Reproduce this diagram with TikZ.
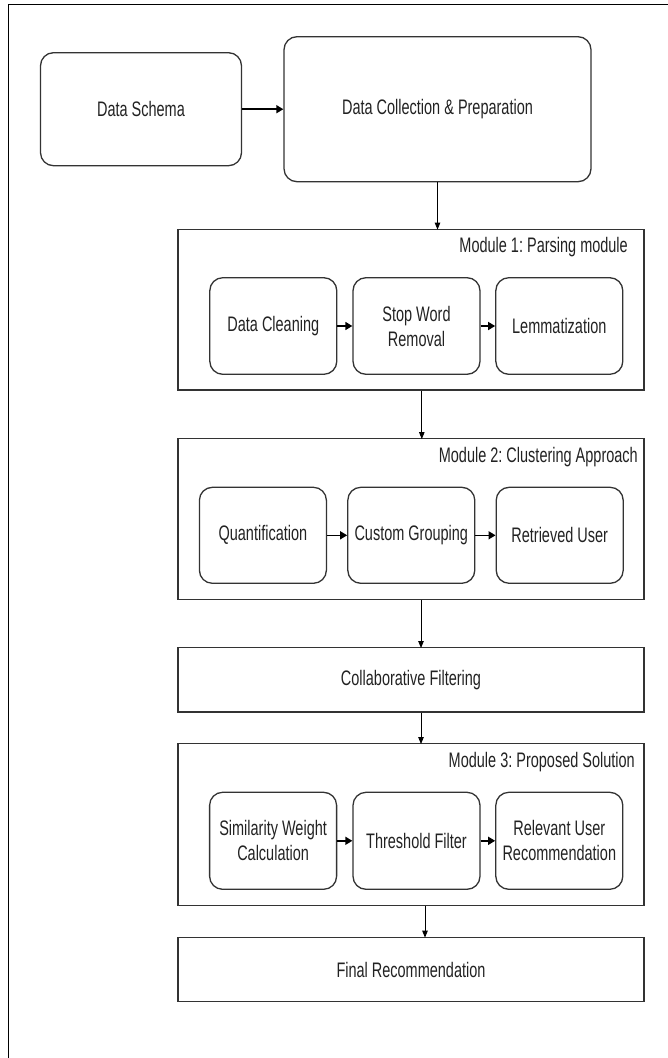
\documentclass[tikz,border=0pt]{standalone}
\usepackage{fontspec}
\setmainfont{Liberation Sans}[FakeStretch=0.69]
\usetikzlibrary{arrows.meta}
\definecolor{ln}{HTML}{333333}
\definecolor{tx}{HTML}{222222}
\frenchspacing
\begin{document}
\begin{tikzpicture}[x=1pt,y=-1pt,
  every node/.style={font=\fontsize{21}{25}\selectfont,text=tx,inner sep=0pt,align=center},
  rbox/.style={draw=ln,line width=1.3pt,rounded corners=13pt,minimum width=#1},
  rbox/.default=127pt,
  mbox/.style={draw=ln,line width=1.3pt,minimum width=466pt},
  ttl/.style={anchor=east},
  arr/.style={draw=black,line width=0.9pt,-{Triangle[length=7pt,width=5.5pt]}},
  sarr/.style={draw=black,line width=1.5pt,-{Triangle[length=7pt,width=8pt]}}]
\useasboundingbox (0,0) rectangle (668,1058);
% outer frame (only left and top visible)
\draw[line width=1.5pt,black] (8.5,1070) -- (8.5,4.5) -- (680,4.5);

% top row
\node[rbox=201pt,minimum height=113pt] (ds) at (141,109.2) {Data Schema};
\node[rbox=307pt,minimum height=145pt] (dc) at (437.5,109.2) {Data Collection \& Preparation};

% module 1
\node[mbox,minimum height=160.7pt] (m1) at (411,309.6) {};
\node[ttl] (t1) at (628,247) {Module 1: Parsing module};
\node[rbox,minimum height=96.6pt] (a1) at (273.3,326) {Data Cleaning};
\node[rbox,minimum height=96.6pt] (a2) at (416.5,326) {Stop Word\\Removal};
\node[rbox,minimum height=96.6pt] (a3) at (559.3,326) {Lemmatization};

% module 2
\node[mbox,minimum height=161pt] (m2) at (411,519.2) {};
\node[ttl] (t2) at (638,456.7) {Module 2: Clustering Approach};
\node[rbox,minimum height=96pt] (b1) at (262.9,535.3) {Quantification};
\node[rbox,minimum height=96pt] (b2) at (411.3,535.3) {Custom Grouping};
\node[rbox,minimum height=96pt] (b3) at (559.7,535.3) {Retrieved User};

% collaborative filtering
\node[mbox,minimum height=64.3pt] (cf) at (411,679.8) {Collaborative Filtering};

% module 3
\node[mbox,minimum height=161.6pt] (m3) at (411,824.5) {};
\node[ttl] (t3) at (635,762) {Module 3: Proposed Solution};
\node[rbox,minimum height=97pt] (c1) at (273.1,840.8) {Similarity Weight\\Calculation};
\node[rbox,minimum height=97pt] (c2) at (416.5,840.8) {Threshold Filter};
\node[rbox,minimum height=97pt] (c3) at (559.3,840.8) {Relevant User\\Recommendation};

% final
\node[mbox,minimum height=64.4pt] (fr) at (411,969.5) {Final Recommendation};

% connectors
\draw[sarr] (ds) -- (dc);
\draw[arr] (dc.south) -- ([yshift=-1pt]m1.north -| dc.south);
\draw[arr] ([xshift=10.8pt]m1.south) -- ([xshift=10.8pt,yshift=-1pt]m2.north);
\draw[arr] ([xshift=10pt]m2.south) -- ([xshift=10pt,yshift=-1pt]cf.north);
\draw[arr] ([xshift=10pt]cf.south) -- ([xshift=10pt,yshift=-1pt]m3.north);
\draw[arr] ([xshift=14pt]m3.south) -- ([xshift=14pt,yshift=-1pt]fr.north);
\draw[sarr] (a1) -- (a2);
\draw[sarr] (a2) -- (a3);
\draw[sarr] (b1) -- (b2);
\draw[sarr] (b2) -- (b3);
\draw[sarr] (c1) -- (c2);
\draw[sarr] (c2) -- (c3);
\end{tikzpicture}
\end{document}
